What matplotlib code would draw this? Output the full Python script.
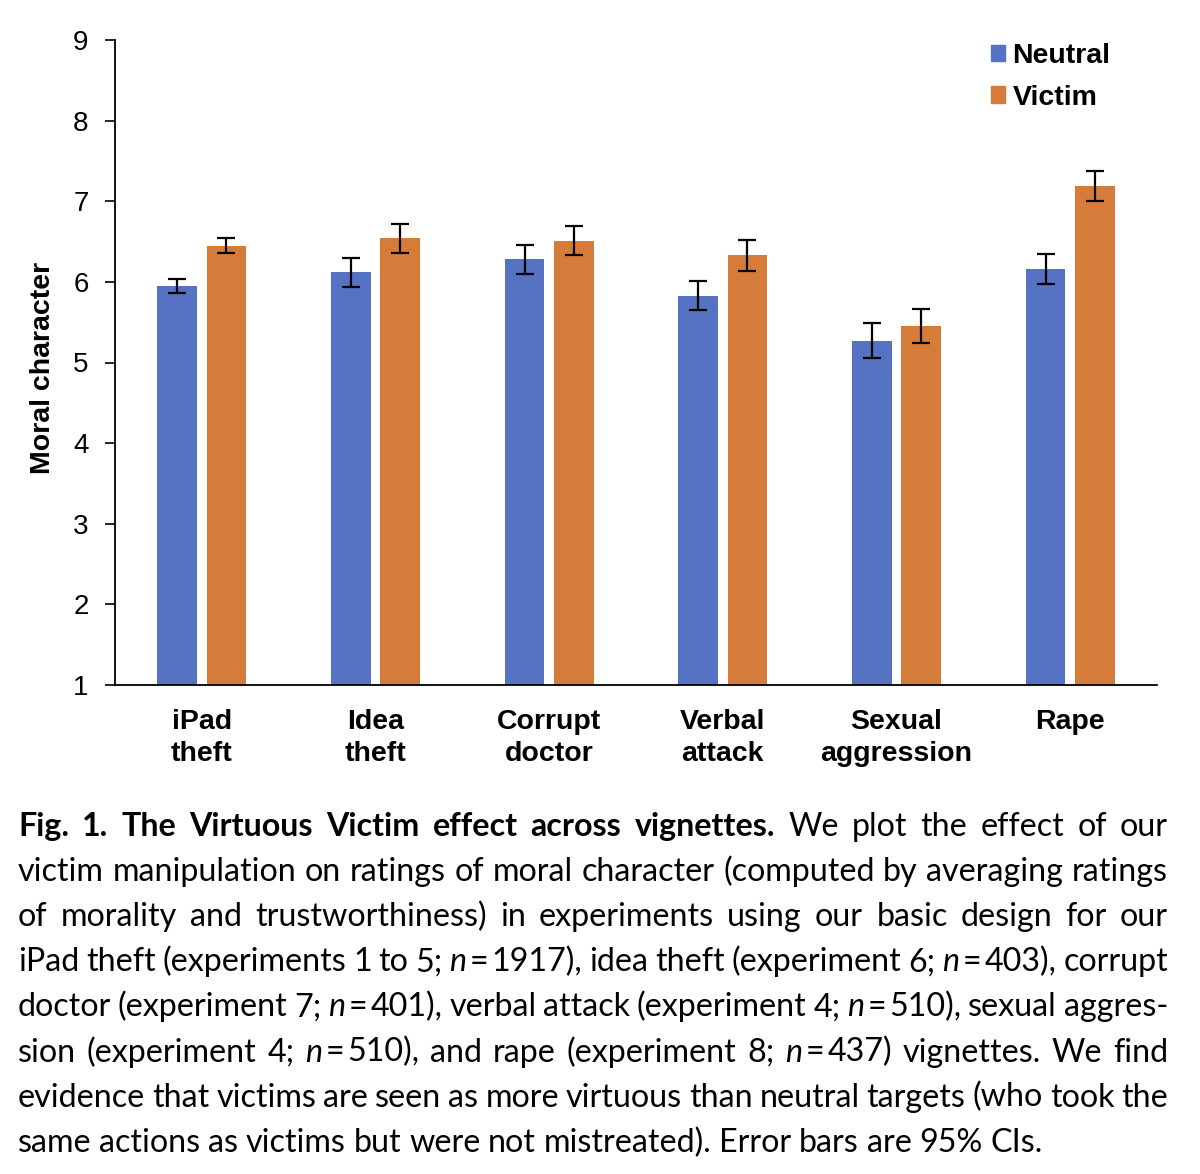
import numpy as np
import matplotlib
matplotlib.use("Agg")
import matplotlib.pyplot as plt
from matplotlib.patches import Patch

# Data
categories = ["iPad\ntheft", "Idea\ntheft", "Corrupt\ndoctor", "Verbal\nattack",
              "Sexual\naggression", "Rape"]
neutral = [5.95, 6.12, 6.28, 5.83, 5.27, 6.16]
neutral_ci = [0.09, 0.18, 0.18, 0.18, 0.22, 0.19]
victim = [6.45, 6.54, 6.51, 6.33, 5.45, 7.19]
victim_ci = [0.09, 0.18, 0.18, 0.19, 0.21, 0.19]
yticks = list(range(1, 10))

# "~" marks a tight (thin) gap, used around "="
caption_lines = [
    "Fig. 1. The Virtuous Victim effect across vignettes. We plot the effect of our",
    "victim manipulation on ratings of moral character (computed by averaging ratings",
    "of morality and trustworthiness) in experiments using our basic design for our",
    "iPad theft (experiments 1 to 5; n~=~1917), idea theft (experiment 6; n~=~403), corrupt",
    "doctor (experiment 7; n~=~401), verbal attack (experiment 4; n~=~510), sexual aggres-",
    "sion (experiment 4; n~=~510), and rape (experiment 8; n~=~437) vignettes. We find",
    "evidence that victims are seen as more virtuous than neutral targets (who took the",
    "same actions as victims but were not mistreated). Error bars are 95% CIs.",
]
n_bold = 8  # first eight words of the caption are bold

blue = "#5672C2"
orange = "#D67C3A"
W, H = 1200, 1174

fig = plt.figure(figsize=(W / 100, H / 100), dpi=100)
ax = fig.add_axes([115 / W, 1 - 685 / H, (1157 - 115) / W, (685 - 40) / H])

x = np.arange(len(categories))
bw = 0.23
off = 0.142
err = dict(ecolor="black", elinewidth=1.6, capsize=6.5, capthick=1.6)
ax.bar(x - off, neutral, bw, yerr=neutral_ci, color=blue, label="Neutral", error_kw=err)
ax.bar(x + off, victim, bw, yerr=victim_ci, color=orange, label="Victim", error_kw=err)

ax.set_xlim(-0.5, len(categories) - 0.5)
ax.set_ylim(1, 9)
ax.set_yticks(yticks)
ax.set_yticklabels([str(t) for t in yticks], family="Liberation Sans", fontsize=20)
ax.set_xticks(x)
ax.set_xticklabels(categories, family="Liberation Sans", fontsize=20.5,
                   fontweight="bold", linespacing=1.3)
ax.tick_params(axis="x", length=0, pad=17)
ax.tick_params(axis="y", direction="out", length=7, width=1.2, pad=12)
for s in ["top", "right"]:
    ax.spines[s].set_visible(False)
for s in ["left", "bottom"]:
    ax.spines[s].set_linewidth(1.3)

ax.set_ylabel("Moral character", family="Liberation Sans", fontsize=20.5,
              fontweight="bold")
ax.yaxis.set_label_coords(-0.057, 0.491)

handles = [Patch(color=blue), Patch(color=orange)]
ax.legend(handles, ["Neutral", "Victim"], loc="upper right", bbox_to_anchor=(0.98, 1.035),
          frameon=False, handlelength=0.5, handleheight=0.5, handletextpad=0.25,
          labelspacing=0.55, prop=dict(family="Liberation Sans", weight="bold", size=20.5))

# Caption, justified between left and right margins
cap_font = "Lato"
left_px, right_px = 18, 1168
base0, step = 836, 45.1
renderer = fig.canvas.get_renderer()


def word_width(word, fs, bold, italic):
    t = fig.text(0, 0, word, fontsize=fs, family=cap_font,
                 weight="bold" if bold else "normal",
                 style="italic" if italic else "normal")
    w = t.get_window_extent(renderer).width
    t.remove()
    return w


# each line -> list of words; each word -> list of (piece, bold, italic)
words_all = []
k = 0
for line in caption_lines:
    row = []
    for wd in line.split(" "):
        row.append([(p, k < n_bold, p == "n") for p in wd.split("~")])
        k += 1
    words_all.append(row)

fs = 24.0
space_frac = 0.19
thin_frac = 0.1
avail = right_px - left_px
while True:
    px = fs * 100 / 72
    widths = [[[word_width(p, fs, b, i) for (p, b, i) in wd] for wd in row]
              for row in words_all]
    totals = [[sum(ws) + (len(ws) - 1) * px * thin_frac for ws in r] for r in widths]
    natural = [sum(t) + (len(t) - 1) * px * space_frac for t in totals]
    if max(natural[:-1]) <= avail:
        break
    fs -= 0.25

px = fs * 100 / 72
for li, (row, wrow, trow) in enumerate(zip(words_all, widths, totals)):
    y = 1 - (base0 + li * step) / H
    if li < len(words_all) - 1:
        gap = (avail - sum(trow)) / (len(row) - 1)
    else:
        gap = px * 0.24
    xp = left_px
    for wd, ws, tw in zip(row, wrow, trow):
        xq = xp
        for (p, b, i), pw in zip(wd, ws):
            fig.text(xq / W, y, p, fontsize=fs, family=cap_font,
                     weight="bold" if b else "normal",
                     style="italic" if i else "normal", va="baseline", ha="left")
            xq += pw + px * thin_frac
        xp += tw + gap

fig.savefig("out.png", dpi=100)
